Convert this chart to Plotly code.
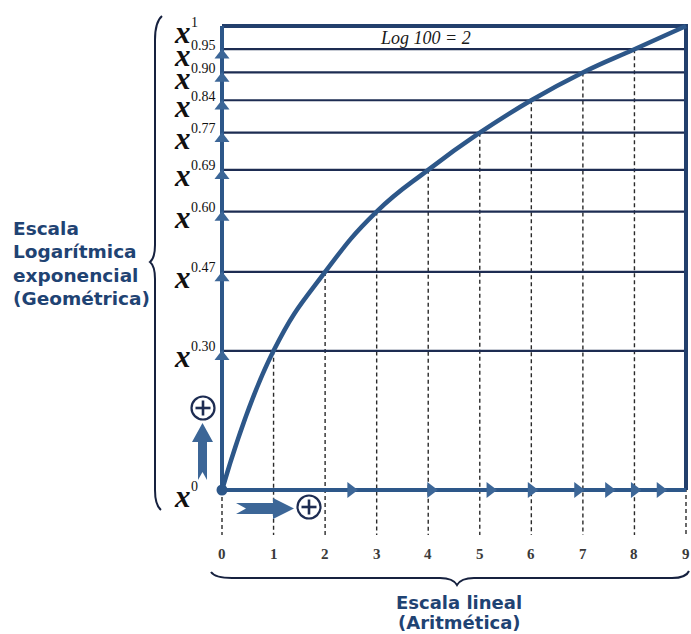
import plotly.graph_objects as go

# ---- data -------------------------------------------------------------
x_ticks = [0, 1, 2, 3, 4, 5, 6, 7, 8, 9]
tick_labels = ["0", "1", "2", "3", "4", "5", "6", "7", "8", "9"]
levels = [0.0, 0.30, 0.47, 0.60, 0.69, 0.77, 0.84, 0.90, 0.95, 1.0]
exponents = ["0", "0.30", "0.47", "0.60", "0.69", "0.77", "0.84", "0.90", "0.95", "1"]
flow_arrows_x = [2.5, 4.05, 5.2, 6.0, 6.9, 7.5, 8.0, 8.5]

# ---- geometry: map the 0..9 / 0..1 frame onto the canvas ---------------
W, H = 691, 634
PX_X0, PX_X9 = 222, 686
PX_Y0, PX_Y1 = 490, 26
ux = (PX_X9 - PX_X0) / 9.0
uy = float(PX_Y0 - PX_Y1)
x_range = [-PX_X0 / ux, (W - PX_X0) / ux]
y_range = [-(H - PX_Y0) / uy, PX_Y0 / uy]


def X(px):
    return (px - PX_X0) / ux


def Y(py):
    return (PX_Y0 - py) / uy


NAVY = "#1d2c52"
BLUE = "#2d5789"
ARROW = "#3c6697"
TEXT_BLUE = "#1f4373"

fig = go.Figure()

# dashed drops from the curve to the scale
dx, dy = [], []
for xv, lv in zip(x_ticks, levels):
    dx += [xv, xv, None]
    dy += [lv, Y(535), None]
fig.add_trace(go.Scatter(x=dx, y=dy, mode="lines",
                         line=dict(color="#2a2a2a", width=1.4, dash="4px,3px"),
                         hoverinfo="skip"))

# horizontal level lines
hx, hy = [], []
for lv in levels[1:-1]:
    hx += [0, 9, None]
    hy += [lv, lv, None]
fig.add_trace(go.Scatter(x=hx, y=hy, mode="lines",
                         line=dict(color=NAVY, width=2.2), hoverinfo="skip"))

# frame: top line and right border
fig.add_trace(go.Scatter(x=[0, 9, 9], y=[levels[-1], levels[-1], 0], mode="lines",
                         line=dict(color="#223f6c", width=4), hoverinfo="skip"))

# the two scales (axes)
fig.add_trace(go.Scatter(x=[0, 0, None, 0, 9], y=[levels[-1], 0, None, 0, 0], mode="lines",
                         line=dict(color=BLUE, width=4), hoverinfo="skip"))

# logarithmic curve through the tick crossings
fig.add_trace(go.Scatter(x=x_ticks, y=levels, mode="lines",
                         line=dict(color=BLUE, width=4.5, shape="spline", smoothing=1.3),
                         hoverinfo="skip"))

# direction arrows on both scales
fig.add_trace(go.Scatter(x=[0] * (len(levels) - 2), y=[lv - 6 / uy for lv in levels[1:-1]],
                         mode="markers",
                         marker=dict(symbol="triangle-up", size=13, color=ARROW),
                         hoverinfo="skip"))
fig.add_trace(go.Scatter(x=flow_arrows_x, y=[0] * len(flow_arrows_x), mode="markers",
                         marker=dict(symbol="triangle-right", size=14, color=ARROW),
                         hoverinfo="skip"))
fig.add_trace(go.Scatter(x=[0], y=[0], mode="markers",
                         marker=dict(symbol="circle", size=11, color=BLUE),
                         hoverinfo="skip"))

ann = []
# x-scale tick labels
for xv, t in zip(x_ticks, tick_labels):
    ann.append(dict(x=xv, y=Y(554), text="<b>" + t + "</b>", showarrow=False,
                    font=dict(family="Liberation Serif", size=15, color="#3a3a3a"),
                    xanchor="center", yanchor="middle"))

# power labels x^e
for lv, e in zip(levels, exponents):
    ann.append(dict(x=X(193), y=lv, text="<b><i>x</i></b>", showarrow=False,
                    font=dict(family="Liberation Serif", size=31, color="#111111"),
                    xanchor="right", yanchor="middle", yshift=-6))
    ann.append(dict(x=X(189), y=lv, text=e, showarrow=False,
                    font=dict(family="Liberation Serif", size=14, color="#111111"),
                    xanchor="left", yanchor="middle", yshift=4))

ann.append(dict(x=X(378), y=Y(38), text="<i>Log 100 = 2</i>", showarrow=False,
                font=dict(family="Liberation Serif", size=18, color="#1a1a1a"),
                xanchor="left", yanchor="middle"))

for i, line in enumerate(["Escala", "Logarítmica", "exponencial", "(Geométrica)"]):
    ann.append(dict(x=X(11), y=Y(228 + 23.5 * i), text="<b>" + line + "</b>", showarrow=False,
                    font=dict(family="DejaVu Sans", size=18.5, color=TEXT_BLUE),
                    xanchor="left", yanchor="middle"))

for i, line in enumerate(["Escala lineal", "(Aritmética)"]):
    ann.append(dict(x=X(459), y=Y(602 + 20 * i), text="<b>" + line + "</b>", showarrow=False,
                    font=dict(family="DejaVu Sans", size=18, color=TEXT_BLUE),
                    xanchor="center", yanchor="middle"))


def path(points):
    return " ".join(("M" if k == 0 else "L") + f"{X(p[0])},{Y(p[1])}"
                    for k, p in enumerate(points)) + " Z"


shapes = []
# block arrows
shapes.append(dict(type="path", xref="x", yref="y", line=dict(width=0), fillcolor=ARROW,
                   path=path([(198, 480), (202.5, 472), (207, 480), (207, 442), (213, 442),
                              (202.5, 423), (192, 442), (198, 442)])))
shapes.append(dict(type="path", xref="x", yref="y", line=dict(width=0), fillcolor=ARROW,
                   path=path([(236, 503), (273, 503), (273, 498), (294, 508.5), (273, 519),
                              (273, 514), (236, 514), (246, 508.5)])))

# circled plus signs
for cx, cy in [(203, 408), (309, 507)]:
    r = 11.5
    shapes.append(dict(type="circle", xref="x", yref="y", x0=X(cx - r), x1=X(cx + r),
                       y0=Y(cy + r), y1=Y(cy - r), line=dict(color=NAVY, width=2.2)))
    shapes.append(dict(type="line", xref="x", yref="y", x0=X(cx - 7.5), x1=X(cx + 7.5),
                       y0=Y(cy), y1=Y(cy), line=dict(color=NAVY, width=2.6)))
    shapes.append(dict(type="line", xref="x", yref="y", x0=X(cx), x1=X(cx),
                       y0=Y(cy - 7.5), y1=Y(cy + 7.5), line=dict(color=NAVY, width=2.6)))


def curve_path(cmds):
    out = []
    for c in cmds:
        op, pts = c[0], c[1:]
        out.append(op + " ".join(f"{X(a)},{Y(b)}" for a, b in pts))
    return " ".join(out)


# left curly brace
shapes.append(dict(type="path", xref="x", yref="y", line=dict(color="#16213f", width=2),
                   path=curve_path([("M", (162, 16)), ("Q", (155, 22), (155, 40)),
                                    ("L", (155, 245)), ("Q", (155, 258), (150, 262)),
                                    ("Q", (155, 266), (155, 279)), ("L", (155, 490)),
                                    ("Q", (155, 505), (161, 510))])))
# bottom curly brace
shapes.append(dict(type="path", xref="x", yref="y", line=dict(color="#16213f", width=2),
                   path=curve_path([("M", (211, 572)), ("Q", (215, 578), (232, 578)),
                                    ("L", (440, 578)), ("Q", (453, 578), (457, 585)),
                                    ("Q", (461, 578), (474, 578)), ("L", (672, 578)),
                                    ("Q", (686, 578), (689, 571))])))

fig.update_layout(
    width=W, height=H, margin=dict(l=0, r=0, t=0, b=0),
    paper_bgcolor="white", plot_bgcolor="white", showlegend=False,
    xaxis=dict(range=x_range, visible=False, fixedrange=True),
    yaxis=dict(range=y_range, visible=False, fixedrange=True),
    annotations=ann, shapes=shapes,
)

fig.write_html("out.html")
